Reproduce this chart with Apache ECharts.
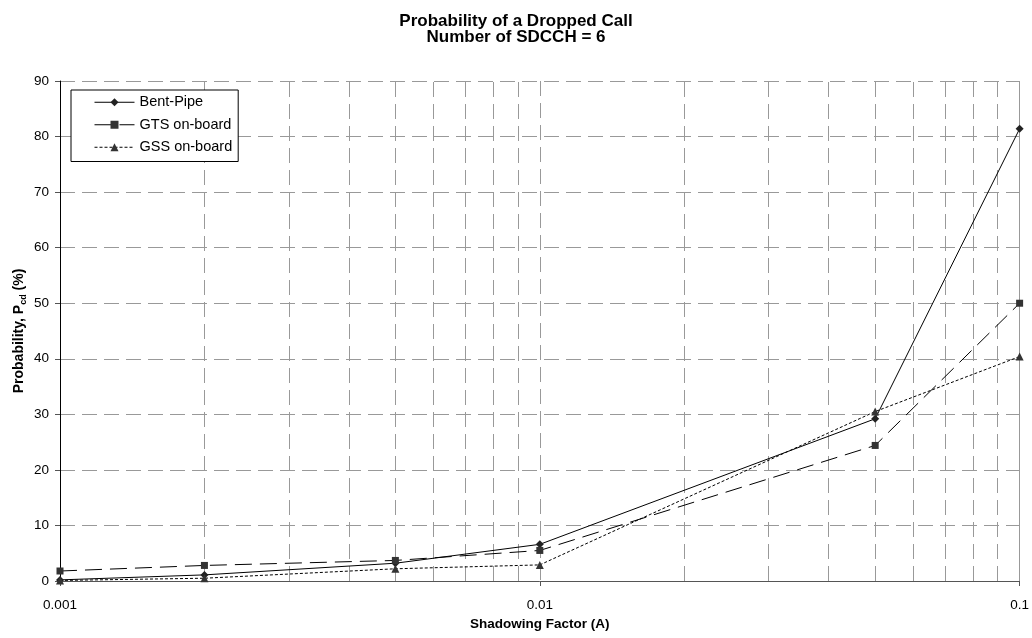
<!DOCTYPE html>
<html>
<head>
<meta charset="utf-8">
<script src="https://cdn.jsdelivr.net/npm/echarts@6/dist/echarts.min.js"></script>
<style>
html,body{margin:0;padding:0;background:#fff;}
#c{width:1032px;height:638px;}
</style>
</head>
<body>
<div id="c"></div>
<script>
var shadowing = [0.001, 0.002, 0.005, 0.01, 0.05, 0.1];
var bentPipe = [0.2, 1.1, 3.2, 6.6, 29.2, 81.4];
var gtsOnBoard = [1.8, 2.8, 3.7, 5.5, 24.4, 50.0];
var gssOnBoard = [0.1, 0.5, 2.2, 2.9, 30.5, 40.4];
var minorGrid = [0.002, 0.003, 0.004, 0.005, 0.006, 0.007, 0.008, 0.009,
                 0.02, 0.03, 0.04, 0.05, 0.06, 0.07, 0.08, 0.09];
var seriesNames = ['Bent-Pipe', 'GTS on-board', 'GSS on-board'];

function pairs(ys){ return shadowing.map(function(x,i){ return [x, ys[i]]; }); }

var font = 'Liberation Sans, Arial, sans-serif';
var gridDash = [15, 7];
var chart = echarts.init(document.getElementById('c'), null, {renderer:'canvas'});
chart.setOption({
  backgroundColor: '#fff',
  animation: false,
  title: {
    text: 'Probability of a Dropped Call\nNumber of SDCCH = 6',
    left: 'center', top: 8,
    textStyle: {fontFamily: font, fontSize: 17, fontWeight: 'bold', color: '#000', lineHeight: 16}
  },
  legend: {
    orient: 'vertical', left: 71, top: 90,
    backgroundColor: '#fff', borderColor: '#000', borderWidth: 1,
    padding: [4, 6, 6, 23], itemGap: 6, itemWidth: 40, itemHeight: 10,
    lineStyle: {width: 1},
    textStyle: {fontFamily: font, fontSize: 14.5, color: '#000', lineHeight: 16.5},
    data: seriesNames
  },
  grid: {left: 60, right: 8, top: 81, bottom: 57, containLabel: false},
  xAxis: {
    type: 'log', logBase: 10, min: 0.001, max: 0.1,
    name: 'Shadowing Factor (A)', nameLocation: 'middle', nameGap: 36, nameMoveOverlap: false,
    nameTextStyle: {fontFamily: font, fontSize: 13.5, fontWeight: 'bold', color: '#000'},
    axisLine: {show: true, lineStyle: {color: '#555', width: 1}},
    axisTick: {show: true, inside: false, length: 5, lineStyle: {color: '#555'}},
    axisLabel: {fontFamily: font, fontSize: 13.5, color: '#000', margin: 17,
      formatter: function(v){ return String(+v.toPrecision(3)); }},
    splitLine: {show: true, lineStyle: {color: '#999', type: gridDash, width: 1}},
    minorTick: {show: false}, minorSplitLine: {show: false}
  },
  yAxis: {
    type: 'value', min: 0, max: 90, interval: 10,
    name: '{m|Probability, P}{s|cd}{m| (%)}', nameLocation: 'middle', nameGap: 32, nameMoveOverlap: false,
    nameRotate: 90,
    nameTextStyle: {fontFamily: font, fontSize: 14, fontWeight: 'bold', color: '#000',
      rich: {
        m: {fontFamily: font, fontSize: 14, fontWeight: 'bold', color: '#000', lineHeight: 18, verticalAlign: 'middle'},
        s: {fontFamily: font, fontSize: 9, fontWeight: 'bold', color: '#000', lineHeight: 18, verticalAlign: 'bottom', padding: [5,0,0,0]}
      }},
    axisLine: {show: true, lineStyle: {color: '#000', width: 1}},
    axisTick: {show: true, inside: false, length: 5, lineStyle: {color: '#555'}},
    axisLabel: {fontFamily: font, fontSize: 13.5, color: '#000', margin: 11},
    splitLine: {show: true, lineStyle: {color: '#999', type: gridDash, width: 1}}
  },
  series: [
    {
      name: 'Bent-Pipe', type: 'line', data: pairs(bentPipe), z: 5,
      symbol: 'diamond', symbolSize: 8, color: '#000',
      lineStyle: {color: '#000', width: 1, type: 'solid'},
      itemStyle: {color: '#222'},
      markLine: {
        silent: true, symbol: 'none', label: {show: false}, z: 1, precision: 6,
        lineStyle: {color: '#999', type: gridDash, width: 1},
        data: minorGrid.map(function(v){ return {xAxis: v}; }).concat([{xAxis: 0.1, lineStyle: {type: 'solid', color: '#999'}}])
      }
    },
    {
      name: 'GTS on-board', type: 'line', data: pairs(gtsOnBoard), z: 5,
      symbol: 'rect', symbolSize: 7, color: '#000',
      lineStyle: {color: '#000', width: 1, type: [17, 8]},
      itemStyle: {color: '#333'}
    },
    {
      name: 'GSS on-board', type: 'line', data: pairs(gssOnBoard), z: 5,
      symbol: 'triangle', symbolSize: 8, color: '#000',
      lineStyle: {color: '#000', width: 1, type: [3, 2]},
      itemStyle: {color: '#333'}
    }
  ]
});
</script>
</body>
</html>
